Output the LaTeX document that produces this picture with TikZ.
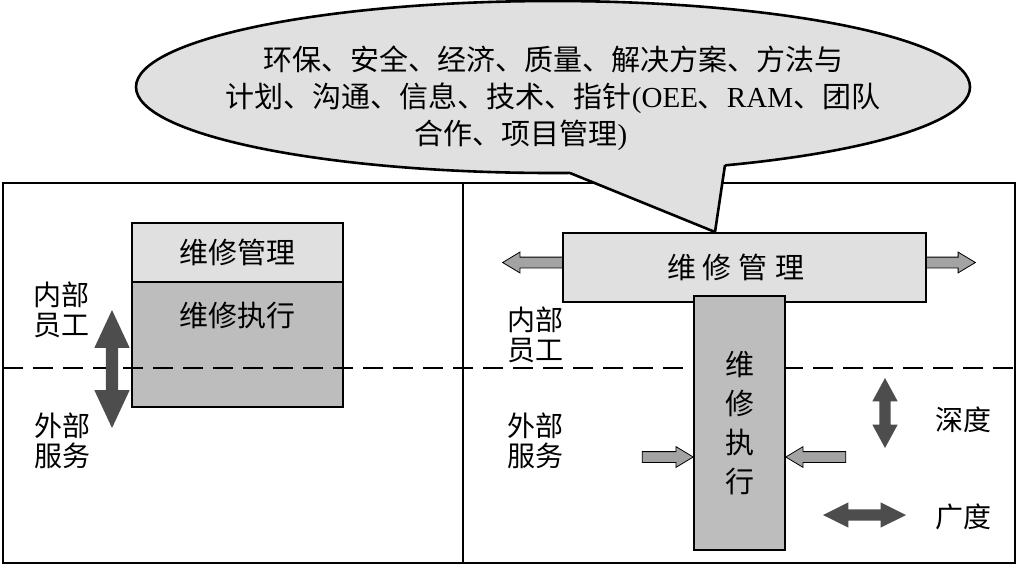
\documentclass[tikz,border=0pt]{standalone}
\usepackage{fontspec}
\setmainfont{Liberation Serif}
\newfontfamily\cjk{Noto Sans CJK SC}
\usetikzlibrary{positioning,shapes.arrows}
\definecolor{PaleGray}{HTML}{E0E0E0}
\definecolor{MidGray}{HTML}{BDBDBD}
\definecolor{DarkGray}{HTML}{4D4D4D}
\definecolor{ArrowGray}{HTML}{A3A3A3}

\begin{document}
\begin{tikzpicture}[x=1pt,y=-1pt,
    box/.style={draw,line width=2.4pt,inner sep=0pt,outer sep=0pt,font=\cjk\fontsize{29}{37}\selectfont},
    lbl/.style={align=center,inner sep=0pt,font=\cjk\fontsize{28}{30}\selectfont},
    lightarrow/.style={single arrow,draw,line width=0.8pt,fill=ArrowGray,inner sep=5pt,minimum width=20pt,single arrow head extend=5pt,single arrow tip angle=62},
    darkarrow/.style={double arrow,fill=DarkGray}
  ]
    \useasboundingbox (0,0) rectangle (1017,566);
    \draw[line width=2pt] (3,183) rectangle (1015,563);
    \draw[line width=2pt] (463,183) -- (463,563);

    \filldraw[fill=PaleGray,line width=2.6pt] (553,87) ellipse [x radius=417,y radius=86];
    \coordinate (tailL) at (570,173);
    \coordinate (tailR) at (725,165);
    \coordinate (tip) at (715,232);
    \fill[PaleGray] (tailL) -- (tip) -- (tailR) -- (725,150) -- (570,150) -- cycle;
    \draw[line width=2.6pt] (tailL) -- (tip) -- (tailR);
    \node[align=center,inner sep=0pt,font=\cjk\fontsize{29}{37}\selectfont] (bubbletext) at (553,98)
      {环保、安全、经济、质量、解决方案、方法与\\
       计划、沟通、信息、技术、指针{\rmfamily(OEE}、{\rmfamily RAM}、团队\\
       合作、项目管理{\rmfamily)}\hspace*{64pt}};

    \node[box,fill=PaleGray,minimum width=211pt,minimum height=59pt] (lmgmt) at (237.5,252.5) {维修管理};
    \node[box,fill=MidGray,minimum width=211pt,text height=44pt,text depth=81pt,below=0pt of lmgmt] (lexec) {维修执行};
    \draw[line width=1.2pt,dash pattern=on 20pt off 10pt] (3,368) -- (1015,368);

    \node[box,fill=PaleGray,minimum width=363pt,minimum height=69pt] (rmgmt) at (744.5,267.5)
      {维\hspace{7pt}修\hspace{7pt}管\hspace{7pt}理\hspace*{18pt}};
    \node[box,fill=MidGray,minimum width=91pt,minimum height=254pt,align=center,font=\cjk\fontsize{29}{39}\selectfont] (rexec) at (739.5,423)
      {维\\修\\执\\行};

    \node[darkarrow,inner sep=6pt,shape border rotate=90,minimum height=118pt,minimum width=35pt,double arrow head extend=11.5pt,double arrow tip angle=50] (lspan) at (112,369) {};
    \node[darkarrow,inner sep=5.5pt,shape border rotate=90,minimum height=70pt,minimum width=25pt,double arrow head extend=7pt,double arrow tip angle=57] (depth) at (885,413) {};
    \node[darkarrow,inner sep=5.5pt,minimum height=83pt,minimum width=25pt,double arrow head extend=7pt,double arrow tip angle=53] (breadth) at (864.5,515) {};

    \node[lightarrow,shape border rotate=180,minimum height=60pt,anchor=tail] (outL) at ([yshift=5pt]rmgmt.west) {};
    \node[lightarrow,minimum height=49pt,anchor=tail] (outR) at ([yshift=5pt]rmgmt.east) {};
    \node[lightarrow,minimum height=51pt,anchor=tip] (inL) at ([yshift=-34pt]rexec.west) {};
    \node[lightarrow,shape border rotate=180,minimum height=60pt,anchor=tip] (inR) at ([yshift=-34pt]rexec.east) {};

    \node[lbl] (linside) at (61,310) {内部\\员工};
    \node[lbl] (loutside) at (62,441) {外部\\服务};
    \node[lbl] (rinside) at (535,335) {内部\\员工};
    \node[lbl] (routside) at (535,441) {外部\\服务};
    \node[lbl] (depthlbl) at (963,420) {深度};
    \node[lbl] (breadthlbl) at (963,517) {广度};
  \end{tikzpicture}
\end{document}
